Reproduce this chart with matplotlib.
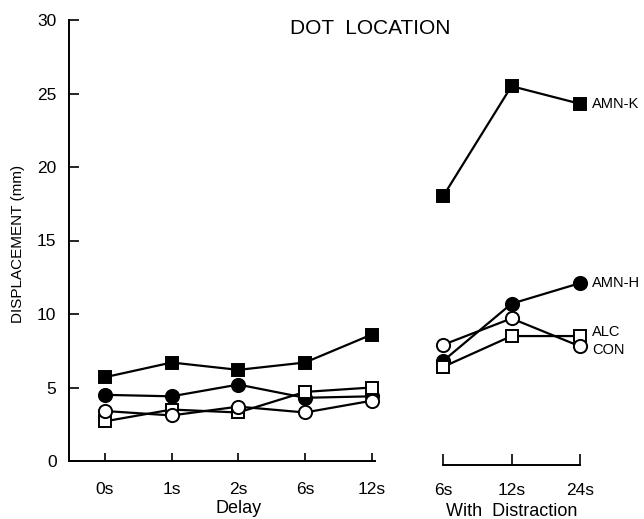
import matplotlib
matplotlib.use("Agg")
import matplotlib.pyplot as plt

plt.rcParams['font.family'] = ['Liberation Sans', 'DejaVu Sans']

# delay conditions
delay_labels = ['0s', '1s', '2s', '6s', '12s']
amn_k = [5.7, 6.7, 6.2, 6.7, 8.6]
amn_h = [4.5, 4.4, 5.2, 4.3, 4.4]
con = [3.4, 3.1, 3.7, 3.3, 4.1]
alc = [2.7, 3.5, 3.3, 4.7, 5.0]

# delay with distraction
dist_labels = ['6s', '12s', '24s']
amn_k_d = [18.0, 25.5, 24.3]
amn_h_d = [6.8, 10.7, 12.1]
con_d = [7.9, 9.7, 7.8]
alc_d = [6.4, 8.5, 8.5]

series = [
    ('AMN-K', amn_k, amn_k_d, 's', 'black', 8.5, 24.3),
    ('AMN-H', amn_h, amn_h_d, 'o', 'black', 9.5, 12.1),
    ('ALC', alc, alc_d, 's', 'white', 8.5, 8.8),
    ('CON', con, con_d, 'o', 'white', 9.5, 7.55),
]

fig = plt.figure(figsize=(6.44, 5.19), dpi=100)
ax1 = fig.add_axes([69 / 644, 58 / 519, 306 / 644, 441 / 519])
ax2 = fig.add_axes([443 / 644, 58 / 519, 137 / 644, 441 / 519], sharey=ax1)

x1 = list(range(len(delay_labels)))
x2 = list(range(len(dist_labels)))
for name, y1, y2, mk, fc, ms, ylab in series:
    ax1.plot(x1, y1, color='black', lw=1.6, marker=mk, ms=ms, mfc=fc,
             mec='black', mew=1.4, clip_on=False)
    ax2.plot(x2, y2, color='black', lw=1.6, marker=mk, ms=ms, mfc=fc,
             mec='black', mew=1.4, clip_on=False)
    ax2.text(2.18, ylab, name, fontsize=10.5, va='center', ha='left')

ax1.set_xlim(-0.54, 4.05)
ax1.set_ylim(0, 30)
ax1.set_yticks([0, 5, 10, 15, 20, 25, 30])
ax1.set_xticks(x1)
ax1.set_xticklabels(delay_labels)
ax1.tick_params(axis='both', direction='in', width=1.2, labelsize=12.5)
ax1.tick_params(axis='x', length=6, pad=15)
ax1.tick_params(axis='y', length=7, pad=9)
for s in ['top', 'right']:
    ax1.spines[s].set_visible(False)
for s in ['left', 'bottom']:
    ax1.spines[s].set_linewidth(1.4)
ax1.text(2, -0.107, 'Delay', transform=ax1.get_xaxis_transform(),
         ha='center', va='center', fontsize=13)

ax2.set_xlim(0, 2)
ax2.set_xticks(x2)
ax2.set_xticklabels(dist_labels)
ax2.patch.set_visible(False)
for s in ['top', 'right', 'left']:
    ax2.spines[s].set_visible(False)
ax2.spines['bottom'].set_position(('outward', 3))
ax2.spines['bottom'].set_linewidth(1.4)
ax2.tick_params(axis='x', direction='in', length=8, width=1.2, pad=13,
                labelsize=12.5)
ax2.tick_params(axis='y', left=False, labelleft=False)
ax2.text(1, -0.115, 'With  Distraction', transform=ax2.get_xaxis_transform(),
         ha='center', va='center', fontsize=13)

fig.text(370 / 644, 1 - 29 / 519, 'DOT  LOCATION', ha='center', va='center',
         fontsize=15)
fig.text(18 / 644, 1 - 244 / 519, 'DISPLACEMENT (mm)', rotation=90,
         ha='center', va='center', fontsize=11)

fig.savefig('out.png', dpi=100)
